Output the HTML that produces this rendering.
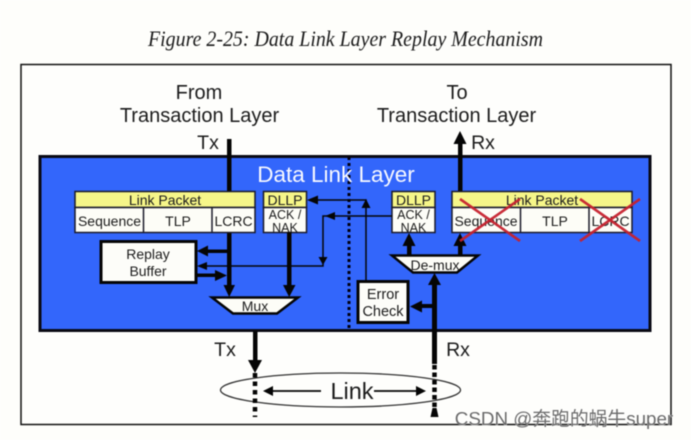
<!DOCTYPE html>
<html><head><meta charset="utf-8"><style>
html,body{margin:0;padding:0;background:#fff}
svg{display:block;filter:blur(.45px)}
text{font-family:"Liberation Sans","Noto Sans CJK SC",sans-serif;fill:#1c1c1c;text-anchor:middle}
</style></head><body>
<svg width="691" height="440" viewBox="0 0 691 440" xmlns="http://www.w3.org/2000/svg">
<rect width="691" height="440" fill="#fefefb"/>
<text x="345.500" y="46" style="font-family:'Liberation Serif',serif;font-style:italic" font-size="22" textLength="395" lengthAdjust="spacingAndGlyphs" fill="#222">Figure 2-25: Data Link Layer Replay Mechanism</text>
<rect x="21" y="64.500" width="650" height="360" fill="#fefefc" stroke="#111" stroke-width="1.500"/>
<text x="199" y="99" font-size="20">From</text>
<text x="199.500" y="122" font-size="20">Transaction Layer</text>
<text x="457" y="99" font-size="20">To</text>
<text x="456.500" y="122" font-size="20">Transaction Layer</text>
<text x="208" y="149" font-size="19.500">Tx</text>
<text x="483" y="149" font-size="19.500">Rx</text>

<rect x="40" y="156.500" width="610" height="174" fill="#3366fb" stroke="#0a0a14" stroke-width="3"/>
<line x1="349" y1="157" x2="349" y2="330" stroke="#000010" stroke-width="3" stroke-dasharray="3 3"/>
<text x="336" y="182" font-size="22.500" style="fill:#f8f9ff">Data Link Layer</text>

<!-- Tx and Rx vertical -->
<rect x="227" y="139" width="4.500" height="146" fill="#050505"/>
<polygon points="223.500,285 235,285 229.200,297" fill="#050505"/>
<rect x="458" y="143" width="4.500" height="50" fill="#050505"/>
<polygon points="453.500,144 466.500,144 460,131" fill="#050505"/>

<!-- packets -->
<g stroke="#1a1a2a" stroke-width="1.500">
<rect x="75" y="191.500" width="180" height="16" fill="#f6f689"/>
<rect x="75" y="207.500" width="180" height="25" fill="#fdfdf7"/>
<line x1="143.500" y1="207.500" x2="143.500" y2="232.500"/>
<line x1="212" y1="207.500" x2="212" y2="232.500"/>
<rect x="263.500" y="191.500" width="43" height="16" fill="#f6f689"/>
<rect x="263.500" y="207.500" width="43" height="25" fill="#fdfdf7"/>
<rect x="392" y="191.500" width="43" height="16" fill="#f6f689"/>
<rect x="392" y="207.500" width="43" height="25" fill="#fdfdf7"/>
<rect x="452" y="191.500" width="180" height="16" fill="#f6f689"/>
<rect x="452" y="207.500" width="180" height="25" fill="#fdfdf7"/>
<line x1="520.500" y1="207.500" x2="520.500" y2="232.500"/>
<line x1="589" y1="207.500" x2="589" y2="232.500"/>
</g>
<text x="165" y="205" font-size="14">Link Packet</text>
<text x="109.500" y="226" font-size="14">Sequence</text>
<text x="178" y="226" font-size="14">TLP</text>
<text x="233.500" y="226" font-size="14">LCRC</text>
<text x="285" y="205" font-size="14">DLLP</text>
<text x="285" y="219" font-size="12.500">ACK /</text>
<text x="285" y="232" font-size="12.500">NAK</text>
<text x="413.500" y="205" font-size="14">DLLP</text>
<text x="413.500" y="219" font-size="12.500">ACK /</text>
<text x="413.500" y="232" font-size="12.500">NAK</text>
<text x="542" y="205" font-size="14">Link Packet</text>
<text x="486" y="226" font-size="14">Sequence</text>
<text x="555" y="226" font-size="14">TLP</text>
<text x="610.500" y="226" font-size="14">LCRC</text>

<!-- Replay buffer -->
<rect x="101" y="241.500" width="95" height="41" fill="#fdfdf9" stroke="#050505" stroke-width="3"/>
<text x="148" y="259" font-size="14">Replay</text>
<text x="148" y="276" font-size="14">Buffer</text>

<!-- Replay arrows -->
<rect x="207" y="249.500" width="22" height="3.500" fill="#050505"/>
<polygon points="197,251 208,245.500 208,256.500" fill="#050505"/>
<rect x="196" y="273.500" width="20" height="3.500" fill="#050505"/>
<polygon points="227,275.500 215,270 215,281" fill="#050505"/>
<polyline points="205,266 323,266 323,216 392,216" fill="none" stroke="#050505" stroke-width="1.500"/>
<polygon points="197,266 207,262 207,270" fill="#050505"/>
<polygon points="323,265 318.500,257 327.500,257" fill="#050505"/>
<polygon points="325,216 335,212 335,220" fill="#050505"/>

<!-- Error check feedback -->
<polyline points="366,281 366,200 316,200" fill="none" stroke="#050505" stroke-width="1.500"/>
<polygon points="366,199 361.500,208 370.500,208" fill="#050505"/>
<polygon points="307,200 318,195.500 318,204.500" fill="#050505"/>

<!-- DLLP down -->
<rect x="287" y="232" width="4.500" height="54" fill="#050505"/>
<polygon points="283,285 295.500,285 289.200,297" fill="#050505"/>

<!-- Mux -->
<polygon points="212,297.500 298,297.500 277,313.500 233,313.500" fill="#fdfdf7" stroke="#050505" stroke-width="2.500"/>
<text x="255" y="311" font-size="14">Mux</text>

<!-- De-mux arrows -->
<rect x="407" y="244" width="4.500" height="12" fill="#050505"/>
<polygon points="402.500,246 415.500,246 409,233" fill="#050505"/>
<rect x="458" y="244" width="4.500" height="12" fill="#050505"/>
<polygon points="453.500,246 466.500,246 460,233" fill="#050505"/>
<polygon points="392,255.500 478,255.500 457,272.500 413,272.500" fill="#fdfdf7" stroke="#050505" stroke-width="2.500"/>
<text x="435" y="270" font-size="14">De-mux</text>

<!-- Rx up -->
<rect x="432" y="284" width="5" height="80" fill="#050505"/>
<polygon points="428,285 441,285 434.500,273" fill="#050505"/>
<rect x="421" y="304" width="12" height="4" fill="#050505"/>
<polygon points="410,306.500 422,300.500 422,312.500" fill="#050505"/>

<!-- Error check -->
<rect x="358" y="281.500" width="50" height="41" fill="#fdfdf9" stroke="#050505" stroke-width="3"/>
<text x="383" y="299" font-size="14.500">Error</text>
<text x="383" y="316" font-size="14.500">Check</text>

<!-- Red crosses -->
<g stroke="#c6222e" stroke-width="2.600" stroke-opacity=".95">
<line x1="460" y1="199" x2="520" y2="241"/>
<line x1="460" y1="241" x2="520" y2="199"/>
<line x1="580" y1="199" x2="640" y2="241"/>
<line x1="580" y1="241" x2="640" y2="199"/>
</g>

<!-- Below -->
<text x="225" y="356" font-size="19.500">Tx</text>
<text x="458" y="356" font-size="19.500">Rx</text>
<rect x="253" y="331" width="4.500" height="31" fill="#050505"/>
<polygon points="248,360 262,360 255,373" fill="#050505"/>
<ellipse cx="340.500" cy="390" rx="120" ry="17" fill="none" stroke="#333" stroke-width="1.300"/>
<line x1="255" y1="373" x2="255" y2="417" stroke="#050505" stroke-width="4.500" stroke-dasharray="4.500 4"/>
<line x1="434.500" y1="365" x2="434.500" y2="408" stroke="#050505" stroke-width="4.500" stroke-dasharray="4.500 3"/>
<polygon points="432.500,408 436.500,408 438.500,417 430.500,417" fill="#050505"/>
<text x="352" y="399" font-size="23.500">Link</text>
<line x1="270" y1="391" x2="321" y2="391" stroke="#050505" stroke-width="1.700"/>
<polygon points="263,391 273,386 273,396" fill="#050505"/>
<line x1="374" y1="391" x2="419" y2="391" stroke="#050505" stroke-width="1.700"/>
<polygon points="426,391 416,386 416,396" fill="#050505"/>

<!-- Watermark -->
<text x="564" y="425" font-size="18.800" style="fill:#6a6a6a;stroke:#fff;stroke-width:.5px;paint-order:stroke">CSDN @奔跑的蜗牛super</text>
</svg>
</body></html>
